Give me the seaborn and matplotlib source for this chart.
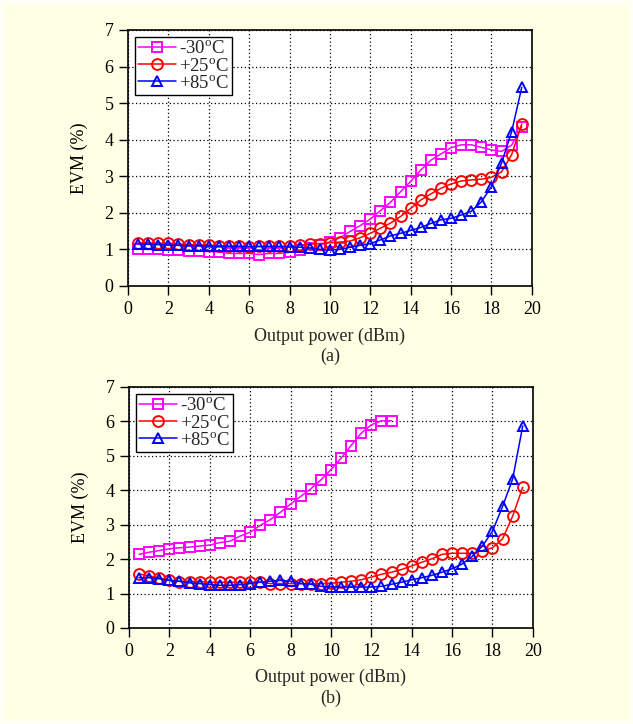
import numpy as np
import pandas as pd
import matplotlib
matplotlib.use("Agg")
import matplotlib.pyplot as plt
import seaborn as sns

# ---------------- data ----------------
labels = ["-30$^{\\mathrm{o}}$C", "+25$^{\\mathrm{o}}$C", "+85$^{\\mathrm{o}}$C"]
colors = ["#FF00FF", "#FF0000", "#0000FF"]
markers = ["s", "o", "^"]

x_a = [0.5, 1, 1.5, 2, 2.5, 3, 3.5, 4, 4.5, 5, 5.5, 6, 6.5, 7, 7.5, 8, 8.5, 9, 9.5, 10,
       10.5, 11, 11.5, 12, 12.5, 13, 13.5, 14, 14.5, 15, 15.5, 16, 16.5, 17, 17.5, 18,
       18.5, 19, 19.5]
a_m30 = [1.01, 1.00, 1.00, 0.98, 0.98, 0.96, 0.96, 0.94, 0.93, 0.89, 0.89, 0.89, 0.86, 0.89,
         0.89, 0.92, 0.98, 1.03, 1.11, 1.21, 1.32, 1.49, 1.65, 1.83, 2.06, 2.29, 2.58, 2.86,
         3.17, 3.44, 3.61, 3.78, 3.86, 3.86, 3.79, 3.72, 3.68, 3.85, 4.35]
a_p25 = [1.18, 1.18, 1.17, 1.17, 1.15, 1.13, 1.13, 1.11, 1.10, 1.09, 1.09, 1.07, 1.08, 1.08,
         1.08, 1.09, 1.11, 1.14, 1.16, 1.18, 1.20, 1.23, 1.32, 1.44, 1.58, 1.72, 1.90, 2.12,
         2.35, 2.52, 2.67, 2.79, 2.87, 2.90, 2.92, 2.97, 3.12, 3.59, 4.43]
a_p85 = [1.15, 1.14, 1.13, 1.12, 1.11, 1.10, 1.10, 1.09, 1.09, 1.08, 1.08, 1.08, 1.08, 1.08,
         1.08, 1.07, 1.06, 1.04, 1.00, 0.98, 1.00, 1.06, 1.11, 1.16, 1.26, 1.37, 1.44, 1.52,
         1.60, 1.71, 1.81, 1.85, 1.94, 2.04, 2.30, 2.72, 3.36, 4.22, 5.43]

x_b_m30 = [0.5, 1, 1.5, 2, 2.5, 3, 3.5, 4, 4.5, 5, 5.5, 6, 6.5, 7, 7.5, 8, 8.5, 9, 9.5, 10,
           10.5, 11, 11.5, 12, 12.5, 13]
b_m30 = [2.14, 2.20, 2.25, 2.30, 2.33, 2.35, 2.38, 2.41, 2.48, 2.52, 2.67, 2.78, 2.98, 3.15,
         3.36, 3.60, 3.82, 4.04, 4.30, 4.60, 4.93, 5.30, 5.66, 5.90, 6.02, 6.02]
x_b = x_a
b_p25 = [1.57, 1.51, 1.46, 1.38, 1.35, 1.35, 1.35, 1.33, 1.33, 1.33, 1.33, 1.33, 1.33, 1.29,
         1.29, 1.29, 1.29, 1.29, 1.29, 1.30, 1.33, 1.36, 1.40, 1.48, 1.56, 1.62, 1.70, 1.80,
         1.91, 2.01, 2.14, 2.17, 2.17, 2.17, 2.25, 2.33, 2.59, 3.25, 4.09]
b_p85 = [1.46, 1.46, 1.43, 1.38, 1.36, 1.31, 1.29, 1.26, 1.24, 1.24, 1.26, 1.29, 1.33, 1.36,
         1.38, 1.36, 1.29, 1.27, 1.21, 1.19, 1.19, 1.19, 1.19, 1.19, 1.21, 1.27, 1.33, 1.40,
         1.46, 1.53, 1.62, 1.72, 1.86, 2.08, 2.38, 2.81, 3.53, 4.33, 5.87]

x_ticks = [0, 2, 4, 6, 8, 10, 12, 14, 16, 18, 20]
y_ticks = [0, 1, 2, 3, 4, 5, 6, 7]

# ---------------- style ----------------
sns.set_theme(style="ticks")
plt.rcParams["font.family"] = ["Liberation Serif", "DejaVu Serif"]
plt.rcParams["mathtext.fontset"] = "custom"
plt.rcParams["mathtext.rm"] = "Liberation Serif"
plt.rcParams["mathtext.it"] = "Liberation Serif:italic"

bg = "#FFFFE3"
fig = plt.figure(figsize=(6.33, 7.24), dpi=100, facecolor=bg)
fig.patch.set_edgecolor("#FFFFF2")
fig.patch.set_linewidth(6)

ax_a = fig.add_axes([0.2022, 0.605, 0.638, 0.3536])
ax_b = fig.add_axes([0.2038, 0.1326, 0.638, 0.3329])


def make_df(xs_list, ys_list):
    frames = []
    for lab, xs, ys in zip(labels, xs_list, ys_list):
        frames.append(pd.DataFrame({"x": xs, "y": ys, "series": lab}))
    return pd.concat(frames, ignore_index=True)


def draw(ax, df, tag, ypos_lab, ypos_tag):
    sns.lineplot(data=df, x="x", y="y", hue="series", style="series",
                 palette=dict(zip(labels, colors)),
                 markers=dict(zip(labels, markers)), dashes=False,
                 hue_order=labels, style_order=labels,
                 markersize=7.8, linewidth=1.1, legend=False, sort=False, ax=ax)
    for line, c in zip(ax.lines, colors):
        line.set_markerfacecolor("none")
        line.set_markeredgecolor(c)
        line.set_markeredgewidth(1.4)
        line.set_color(c)
    ax.set_facecolor("white")
    ax.set_xlim(0, 20)
    ax.set_ylim(0, 7)
    ax.set_xticks(x_ticks)
    ax.set_yticks(y_ticks)
    ax.grid(True, color="black", linestyle=(0, (1, 2)), linewidth=0.9)
    ax.set_axisbelow(True)
    for s in ax.spines.values():
        s.set_color("black")
        s.set_linewidth(1.2)
        s.set_visible(True)
    ax.tick_params(axis="both", direction="out", length=6.5, width=1.0,
                   colors="black", labelsize=13, pad=4, top=False, right=False)
    ax.set_xlabel("")
    ax.set_ylabel("EVM (%)", fontsize=13, color="black", labelpad=12)
    cx = (ax.get_position().x0 + ax.get_position().x1) / 2
    fig.text(cx, ypos_lab, "Output power (dBm)", ha="center", va="center", fontsize=13)
    fig.text(cx, ypos_tag, tag, ha="center", va="center", fontsize=13)
    leg = ax.legend(handles=ax.lines[:3], labels=labels, loc="upper left",
                    fontsize=13.5, frameon=True, fancybox=False, framealpha=1,
                    edgecolor="black", borderaxespad=0.35, borderpad=0.2,
                    handlelength=2.0, handletextpad=0.15, labelspacing=0.0)
    leg.get_frame().set_linewidth(1.0)


df_a = make_df([x_a, x_a, x_a], [a_m30, a_p25, a_p85])
df_b = make_df([x_b_m30, x_b, x_b], [b_m30, b_p25, b_p85])

draw(ax_a, df_a, "(a)", 1 - 336 / 724, 1 - 356 / 724)
draw(ax_b, df_b, "(b)", 1 - 677 / 724, 1 - 698 / 724)

fig.savefig("out.png", dpi=100, facecolor=bg, edgecolor="#FFFFF2")
